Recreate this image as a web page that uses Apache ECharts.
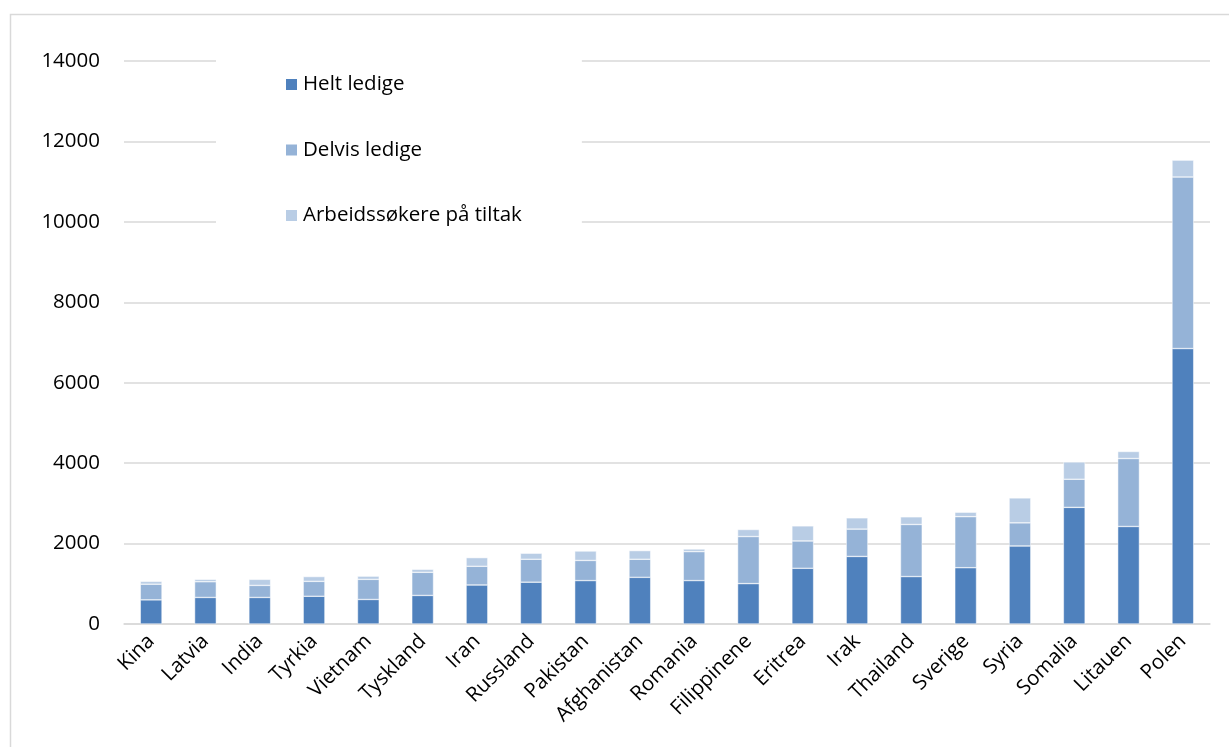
<!DOCTYPE html>
<html>
<head>
<meta charset="utf-8">
<script src="https://cdn.jsdelivr.net/npm/echarts@6/dist/echarts.min.js"></script>
<style>html,body{margin:0;padding:0;background:#fff}#c{width:1229px;height:747px}</style>
</head>
<body>
<div id="c"></div>
<script>
const categories = ["Kina","Latvia","India","Tyrkia","Vietnam","Tyskland","Iran","Russland","Pakistan","Afghanistan","Romania","Filippinene","Eritrea","Irak","Thailand","Sverige","Syria","Somalia","Litauen","Polen"];
const heltLedige = [600,660,660,690,610,710,970,1040,1080,1160,1080,1005,1385,1680,1180,1400,1940,2900,2425,6850];
const delvisLedige = [390,390,300,370,500,575,465,570,500,450,720,1170,680,680,1295,1270,575,700,1690,4265];
const tiltak = [70,60,150,120,80,75,215,150,235,215,65,175,375,280,190,110,620,430,175,420];
const seriesNames = ["Helt ledige","Delvis ledige","Arbeidssøkere på tiltak"];
const yTicks = {min:0, max:14000, interval:2000};

const font = "'Open Sans', 'Noto Sans', sans-serif";
const chart = echarts.init(document.getElementById('c'), null, {renderer:'canvas'});
const colors = ['#4F81BD','#95B3D7','#B9CDE5'];
const mk = (name, data, i) => ({
  name, type:'bar', stack:'total', data,
  barCategoryGap:'60%',
  itemStyle:{color:colors[i], borderColor:'#ffffff', borderWidth:0.5},
  emphasis:{disabled:true}
});
chart.setOption({
  animation:false,
  backgroundColor:'#ffffff',
  textStyle:{fontFamily:font},
  graphic:[{type:'rect', left:8, top:12, shape:{width:1260, height:780}, style:{fill:'none', stroke:'#d9d9d9', lineWidth:1.5}, silent:true}],
  grid:{left:124, right:19, top:61, bottom:123, containLabel:false},
  legend:{
    orient:'vertical', left:216, top:49,
    padding:[25,60,20,68],
    backgroundColor:'#ffffff',
    itemWidth:13, itemHeight:13, itemGap:44.5,
    icon:'rect',
    textStyle:{fontSize:20.5, color:'#000', fontFamily:font, lineHeight:20},
    data:seriesNames
  },
  xAxis:{
    type:'category', data:categories,
    axisLine:{show:true, lineStyle:{color:'#d9d9d9', width:1.5}},
    axisTick:{show:false},
    axisLabel:{rotate:45, fontSize:20.5, color:'#000', fontFamily:font, margin:14, interval:0}
  },
  yAxis:{
    type:'value', min:yTicks.min, max:yTicks.max, interval:yTicks.interval,
    axisLine:{show:false}, axisTick:{show:false},
    splitLine:{lineStyle:{color:'#d9d9d9', width:1.5}},
    axisLabel:{fontSize:20.5, color:'#000', fontFamily:font, margin:24, formatter:(v)=>String(v)}
  },
  series:[mk(seriesNames[0], heltLedige, 0), mk(seriesNames[1], delvisLedige, 1), mk(seriesNames[2], tiltak, 2)]
});
</script>
</body>
</html>
